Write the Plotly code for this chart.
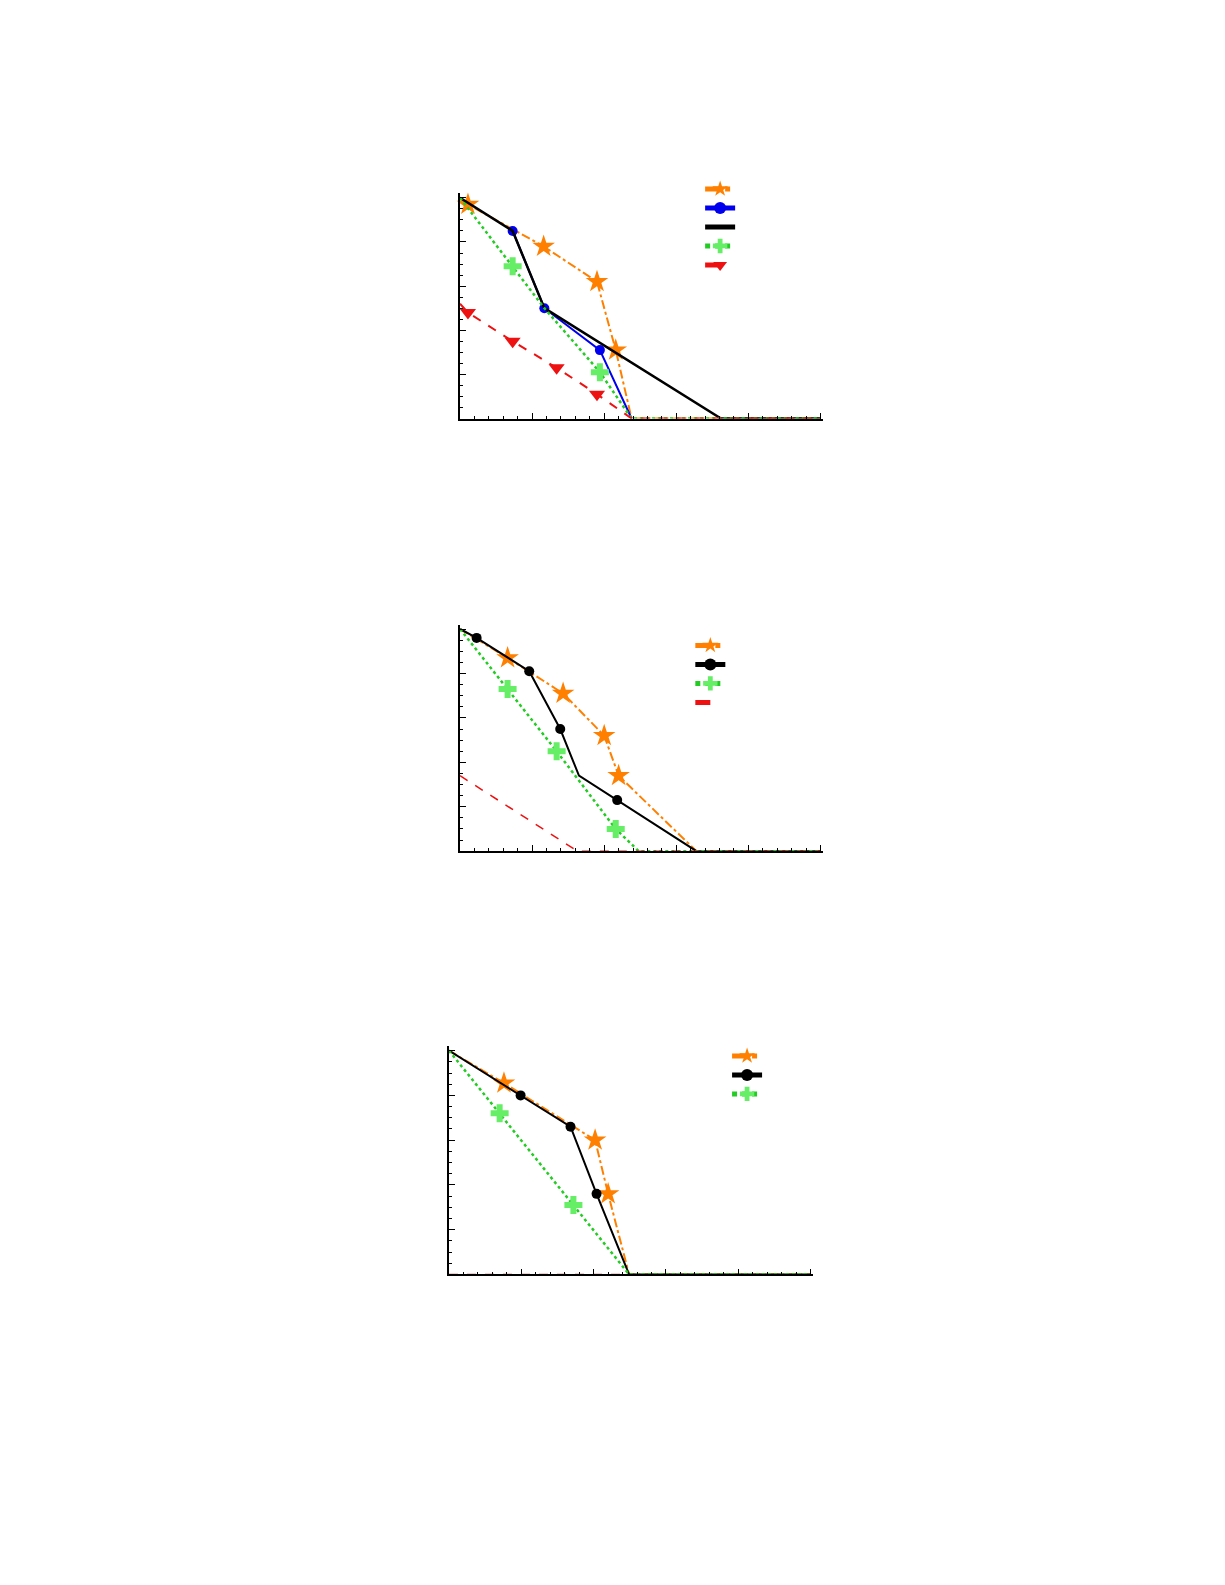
import plotly.graph_objects as go

# Panel 1
p1_orange_x = [0, 0.11, 1.16, 1.9, 2.16, 2.38, 5]
p1_orange_y = [1, 0.97, 0.78, 0.62, 0.31, 0, 0]
p1_black_x = [0, 0.73, 1.17, 3.62, 5]
p1_black_y = [1, 0.85, 0.5, 0, 0]
p1_blue_x = [0.73, 1.17, 1.94, 2.38]
p1_blue_y = [0.85, 0.5, 0.31, 0]
p1_green_x = [0, 0.73, 1.17, 1.94, 2.38, 5]
p1_green_y = [1, 0.69, 0.5, 0.21, 0, 0]
p1_red_x = [0, 0.11, 0.73, 1.34, 1.9, 2.38, 5]
p1_red_y = [0.52, 0.48, 0.35, 0.23, 0.11, 0, 0]
# Panel 2
p2_orange_x = [0, 0.66, 1.43, 2.0, 2.2, 3.28, 5]
p2_orange_y = [1, 0.87, 0.71, 0.52, 0.34, 0, 0]
p2_black_x = [0, 0.23, 0.96, 1.39, 1.65, 2.18, 3.28, 5]
p2_black_y = [1, 0.96, 0.81, 0.55, 0.34, 0.23, 0, 0]
p2_green_x = [0, 0.66, 1.34, 2.16, 2.48, 5]
p2_green_y = [1, 0.73, 0.45, 0.10, 0, 0]
p2_red_x = [0, 1.63, 5]
p2_red_y = [0.34, 0, 0]
# Panel 3
p3_orange_x = [0, 0.76, 2.02, 2.2, 2.49, 5]
p3_orange_y = [1, 0.855, 0.6, 0.36, 0, 0]
p3_black_x = [0, 0.99, 1.68, 2.04, 2.49, 5]
p3_black_y = [1, 0.8, 0.66, 0.36, 0, 0]
p3_green_x = [0, 0.70, 1.72, 2.49, 5]
p3_green_y = [1, 0.72, 0.31, 0, 0]
p3_red_x = [0, 5]
p3_red_y = [0, 0]

OR, GR, GRM, RD = "#ff8000", "#22cc22", "#66ee66", "#ee1111"
fig = go.Figure()

def add(x, y, xa, ya, lg, color, dash, width, symbol=None, mcolor=None, msize=11, idx=None, show=True):
    n = len(x)
    if symbol:
        sizes = [msize if (idx is None or i in idx) else 0 for i in range(n)]
        mode = "lines+markers"
        marker = dict(symbol=symbol, color=mcolor or color, size=sizes, opacity=1,
                      line=dict(width=0))
    else:
        mode = "lines"; marker = None
    fig.add_trace(go.Scatter(x=x, y=y, xaxis=xa, yaxis=ya, mode=mode, name=" ",
                             line=dict(color=color, dash=dash, width=width), marker=marker,
                             legend=lg, showlegend=show, cliponaxis=False))

# panel 1
add(p1_orange_x, p1_orange_y, "x", "y", "legend", OR, "dashdot", 2, "star", idx=[1, 2, 3, 4], msize=17)
add(p1_blue_x, p1_blue_y, "x", "y", "legend", "#0000ee", "solid", 2, "circle", idx=[0, 1, 2], msize=10)
add(p1_black_x, p1_black_y, "x", "y", "legend", "black", "solid", 2.5)
add(p1_green_x, p1_green_y, "x", "y", "legend", GR, "dot", 2.5, "cross", mcolor=GRM, idx=[1, 3], msize=15)
add(p1_red_x, p1_red_y, "x", "y", "legend", RD, "dash", 2, "triangle-down", idx=[1, 2, 3, 4], msize=14)
# panel 2
add(p2_orange_x, p2_orange_y, "x2", "y2", "legend2", OR, "dashdot", 2, "star", idx=[1, 2, 3, 4], msize=17)
add(p2_black_x, p2_black_y, "x2", "y2", "legend2", "black", "solid", 2, "circle", idx=[1, 2, 3, 5], msize=10)
add(p2_green_x, p2_green_y, "x2", "y2", "legend2", GR, "dot", 2.5, "cross", mcolor=GRM, idx=[1, 2, 3], msize=15)
add(p2_red_x, p2_red_y, "x2", "y2", "legend2", RD, "dash", 1.5)
# panel 3
add(p3_red_x, p3_red_y, "x3", "y3", "legend3", "#cc3333", "dash", 1.5, show=False)
add(p3_orange_x, p3_orange_y, "x3", "y3", "legend3", OR, "dashdot", 2, "star", idx=[1, 2, 3], msize=17)
add(p3_black_x, p3_black_y, "x3", "y3", "legend3", "black", "solid", 2, "circle", idx=[1, 2, 3], msize=10)
add(p3_green_x, p3_green_y, "x3", "y3", "legend3", GR, "dot", 2.5, "cross", mcolor=GRM, idx=[1, 2], msize=15)

def xax(dom, anchor):
    return dict(domain=dom, range=[0, 5.03], anchor=anchor, showgrid=False, zeroline=False,
                showline=True, linecolor="black", linewidth=1.5, ticks="inside", ticklen=6,
                tickcolor="black", dtick=1, tick0=0, showticklabels=False,
                minor=dict(ticks="inside", ticklen=3, dtick=0.2, tickcolor="black"))
def yax(dom, anchor):
    return dict(domain=dom, range=[0, 1.02], anchor=anchor, showgrid=False, zeroline=False,
                showline=True, linecolor="black", linewidth=1.5, ticks="inside", ticklen=6,
                tickcolor="black", dtick=0.2, tick0=0, showticklabels=False,
                minor=dict(ticks="inside", ticklen=3, dtick=0.05, tickcolor="black"))

lg = dict(bgcolor="rgba(0,0,0,0)", font=dict(size=12), itemwidth=30, tracegroupgap=0,
          xanchor="left", yanchor="top", itemsizing="constant")
fig.update_layout(
    width=1225, height=1585, margin=dict(l=0, r=0, t=0, b=0),
    paper_bgcolor="white", plot_bgcolor="white",
    xaxis=xax([0.369, 0.665], "y"), yaxis=yax([0.741, 0.883], "x"),
    xaxis2=xax([0.369, 0.665], "y2"), yaxis2=yax([0.468, 0.611], "x2"),
    xaxis3=xax([0.360, 0.657], "y3"), yaxis3=yax([0.201, 0.345], "x3"),
    legend=dict(lg, x=0.565, y=0.895),
    legend2=dict(lg, x=0.557, y=0.607),
    legend3=dict(lg, x=0.587, y=0.348),
)
fig.write_html("out.html")
